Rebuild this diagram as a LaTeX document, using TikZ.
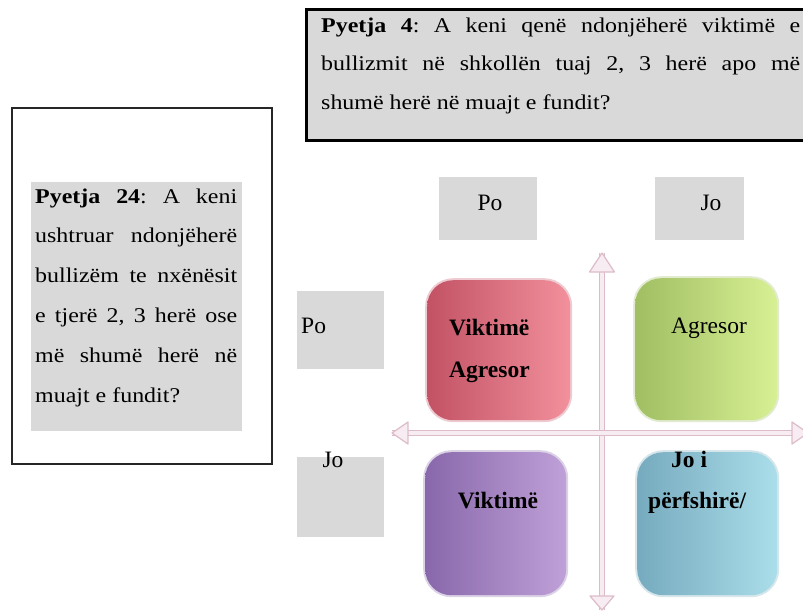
\documentclass[tikz,border=0pt]{standalone}
\usepackage{fontspec}
\setmainfont{Liberation Serif}
\newfontfamily\parafont[FakeStretch=1.14]{Liberation Serif}
\usetikzlibrary{arrows.meta}
\frenchspacing
\definecolor{lbgray}{HTML}{D9D9D9}
\definecolor{axisc}{HTML}{DDBCC9}
\definecolor{axisfill}{HTML}{F7ECF1}
\definecolor{redA}{HTML}{C25264}
\definecolor{redM}{HTML}{D4606F}
\definecolor{redB}{HTML}{F2909C}
\definecolor{grnA}{HTML}{A0BE62}
\definecolor{grnM}{HTML}{B0CC70}
\definecolor{grnB}{HTML}{D8F094}
\definecolor{purA}{HTML}{8868AA}
\definecolor{purM}{HTML}{9878B8}
\definecolor{purB}{HTML}{BFA0D8}
\definecolor{bluA}{HTML}{76AABE}
\definecolor{bluM}{HTML}{86BCCE}
\definecolor{bluB}{HTML}{AADEEA}
\begin{document}
\begin{tikzpicture}[x=1pt,y=-1pt,
  qbox/.style={draw=black, line width=3pt, fill=lbgray, anchor=north west, inner sep=0pt},
  lbox/.style={fill=lbgray, anchor=north west, inner sep=0pt},
  txt/.style={inner sep=0pt, font=\fontsize{23.5}{28}\selectfont},
  btxt/.style={inner sep=0pt, font=\fontsize{23.5}{28}\selectfont\bfseries},
  para/.style={inner sep=0pt, anchor=base west},
  quad/.style={anchor=north west, inner sep=0pt, rounded corners=26pt, shading=axis, shading angle=90},
  axisline/.style={draw=axisc, line width=1.4pt, double=axisfill, double distance=3.2pt},
  axishead/.style={draw=axisc, line width=1.2pt, fill=axisfill, line join=round}
]
\useasboundingbox (0,0) rectangle (803,611);

% Question 4 box
\node[qbox, minimum width=515, minimum height=131] (q4) at (305,8) {};
\node[para] (q4t) at (321,32) {\parafont\fontsize{21}{38.5}\selectfont
  \vtop{\hsize=479pt\parindent=0pt\baselineskip=38.5pt
  \makebox[479pt][s]{\textbf{Pyetja 4}: A keni qenë ndonjëherë viktimë e}\par
  \makebox[479pt][s]{bullizmit në shkollën tuaj 2, 3 herë apo më}\par
  shumë herë në muajt e fundit?\par}};

% Question 24 box
\node[draw=black!85, line width=2pt, fill=white, anchor=north west, inner sep=0pt,
      minimum width=260, minimum height=356] (q24) at (11,107) {};
\node[lbox, minimum width=211, minimum height=249] (q24g) at (31,182) {};
\node[para] (q24t) at (35,203) {\parafont\fontsize{21}{39.8}\selectfont
  \vtop{\hsize=202pt\parindent=0pt\baselineskip=39.8pt
  \makebox[202pt][s]{\textbf{Pyetja 24}: A keni}\par
  \makebox[202pt][s]{ushtruar ndonjëherë}\par
  \makebox[202pt][s]{bullizëm te nxënësit}\par
  \makebox[202pt][s]{e tjerë 2, 3 herë ose}\par
  \makebox[202pt][s]{më shumë herë në}\par
  muajt e fundit?\par}};

% label boxes
\node[lbox, minimum width=98, minimum height=63] (poTop) at (439,177) {};
\node[lbox, minimum width=89, minimum height=63] (joTop) at (655,177) {};
\node[lbox, minimum width=87, minimum height=78] (poLeft) at (297,291) {};
\node[lbox, minimum width=87, minimum height=80] (joLeft) at (297,457) {};
\node[txt, anchor=base] (poTopT) at (490,210) {Po};
\node[txt, anchor=base] (joTopT) at (711,210) {Jo};
\node[txt, anchor=base west] (poLeftT) at (301,333) {Po};
\node[txt, anchor=base] (joLeftT) at (333,467) {Jo};

% axes
\coordinate (vt) at (602,253);
\coordinate (vb) at (602,610);
\coordinate (hl) at (392,433);
\coordinate (hr) at (808,433);
\draw[axisline] (vt) -- (vb);
\draw[axisline] (hl) -- (hr);
\draw[axishead] (vt) -- ++(12.5,19) -- ++(-25,0) -- cycle;
\draw[axishead] (vb) -- ++(12,-14) -- ++(-24,0) -- cycle;
\draw[axishead] (hl) -- ++(16,-11) -- ++(0,22) -- cycle;
\draw[axishead] (hr) -- ++(-16,-11) -- ++(0,22) -- cycle;

% quadrant boxes
\node[quad, left color=redA, middle color=redM, right color=redB, minimum width=143, minimum height=140,
      preaction={draw=redA!30, line width=4pt}] (red) at (427,280) {};
\node[quad, left color=grnA, middle color=grnM, right color=grnB, minimum width=142, minimum height=142,
      preaction={draw=grnA!30, line width=4pt}] (green) at (635,278) {};
\node[quad, left color=purA, middle color=purM, right color=purB, minimum width=141, minimum height=143,
      preaction={draw=purA!30, line width=4pt}] (purple) at (425,452) {};
\node[quad, left color=bluA, middle color=bluM, right color=bluB, minimum width=140, minimum height=143,
      preaction={draw=bluA!30, line width=4pt}] (blue) at (637,452) {};

\node[btxt, anchor=base west] (redT1) at (449,335) {Viktimë};
\node[btxt, anchor=base west] (redT2) at (449,377) {Agresor};
\node[txt, anchor=base] (greenT) at (709,333) {Agresor};
\node[btxt, anchor=base] (purT) at (498,508) {Viktimë};
\node[btxt, anchor=base west] (bluT1) at (671,467) {Jo i};
\node[btxt, anchor=base west] (bluT2) at (648,508) {përfshirë/};
\end{tikzpicture}
\end{document}
